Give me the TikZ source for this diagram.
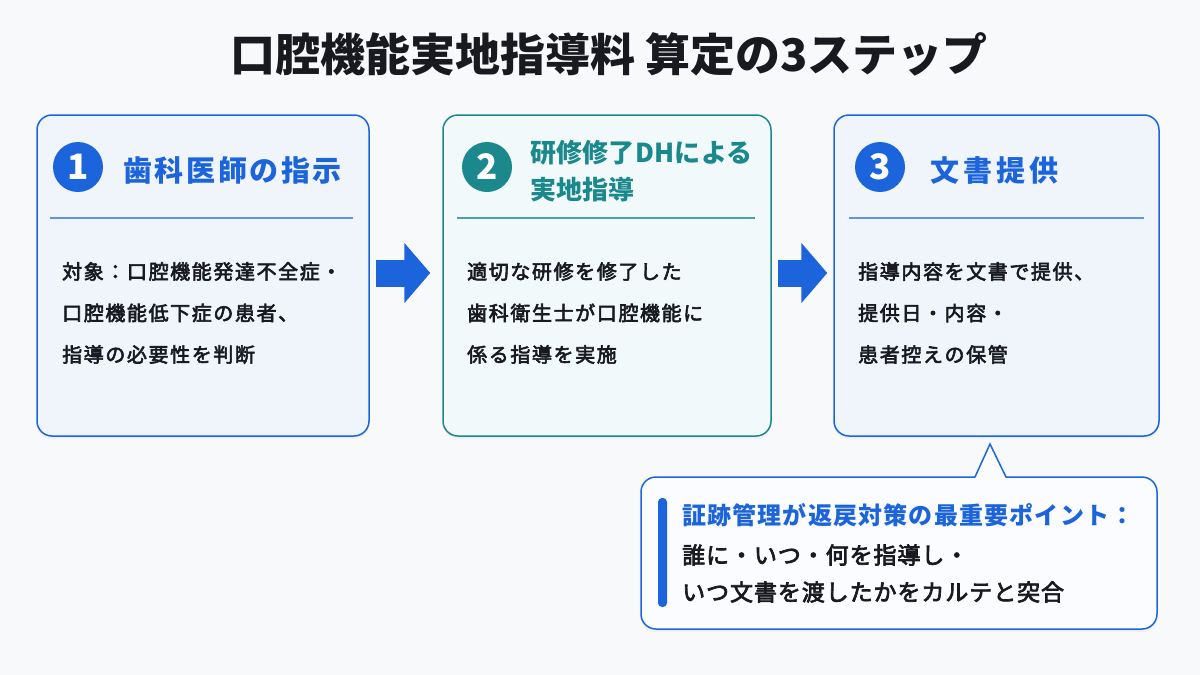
\documentclass[tikz,border=0pt]{standalone}
\usepackage{fontspec}
\setmainfont{Noto Sans CJK JP}
\usetikzlibrary{arrows.meta}
\usetikzlibrary{shadows}
\definecolor{bgcol}{RGB}{248,249,251}
\definecolor{inkcol}{RGB}{24,26,32}
\definecolor{blueM}{RGB}{28,100,220}
\definecolor{tealM}{RGB}{26,136,140}
\definecolor{bluefill}{RGB}{240,245,252}
\definecolor{tealfill}{RGB}{241,249,251}
\definecolor{notefill}{RGB}{251,252,255}
\tikzstyle{card}=[draw, line width=1.5pt, rounded corners=15pt, inner sep=0pt, minimum height=321pt, drop shadow={opacity=0.07, shadow xshift=0pt, shadow yshift=-3pt}]
\tikzstyle{bluecard}=[card, draw=blueM, fill=bluefill, minimum width=332pt]
\tikzstyle{tealcard}=[card, draw=tealM, fill=tealfill, minimum width=328pt]
\tikzstyle{numdot}=[circle, inner sep=0pt, minimum size=50pt, text=white, font=\bfseries\fontsize{35}{35}\selectfont]
\tikzstyle{headtext}=[anchor=west, inner sep=0pt, align=left, font=\bfseries\fontsize{29}{36}\selectfont\addfontfeature{LetterSpace=9}]
\tikzstyle{bodytext}=[anchor=west, inner sep=0pt, align=left, text=inkcol, font=\fontsize{20}{41.5}\selectfont\addfontfeature{LetterSpace=8,FakeBold=3}]
\tikzstyle{rulebl}=[draw=blueM!70, line width=1.2pt]
\tikzstyle{rulete}=[draw=tealM!80, line width=1.2pt]
\tikzstyle{flow}=[draw=blueM, line width=27pt, -{Triangle[width=59pt,length=26pt]}]
\tikzstyle{notebox}=[draw=blueM, line width=1.5pt, fill=notefill, rounded corners=15pt, inner sep=0pt, minimum width=516pt, minimum height=152pt, drop shadow={opacity=0.07, shadow xshift=0pt, shadow yshift=-3pt}]
\begin{document}
\begin{tikzpicture}[x=1pt, y=-1pt]
        \fill[bgcol] (0,0) rectangle (1200,675);
        \useasboundingbox (0,0) rectangle (1200,675);
        \node[inner sep=0pt, text=inkcol, font=\bfseries\fontsize{45}{50}\selectfont] (title) at (609,54) {口腔機能実地指導料 算定の3ステップ};
        % three steps
        \node[bluecard] (s1) at (203,275.5) {};
        \node[tealcard] (s2) at (607,275.5) {};
        \node[bluecard, minimum width=325pt] (s3) at (996.5,275.5) {};
        \node[numdot, fill=blueM] (n1) at (78,167) {1};
        \node[headtext, text=blueM] (h1) at (123,170) {歯科医師の指示};
        \draw[rulebl] (50,218) -- (353,218);
        \node[bodytext] (b1) at (62,313) {対象：口腔機能発達不全症・\\口腔機能低下症の患者、\\指導の必要性を判断};
        \node[numdot, fill=tealM] (n2) at (487,167) {2};
        \node[headtext, text=tealM, font=\bfseries\fontsize{26}{37}\selectfont\addfontfeature{LetterSpace=1}] (h2) at (530,171.5) {研修修了DHによる\\実地指導};
        \draw[rulete] (457,218) -- (755,218);
        \node[bodytext] (b2) at (467,313) {適切な研修を修了した\\歯科衛生士が口腔機能に\\係る指導を実施};
        \node[numdot, fill=blueM] (n3) at (880,167) {3};
        \node[headtext, text=blueM, font=\bfseries\fontsize{29}{36}\selectfont\addfontfeature{LetterSpace=14}] (h3) at (930,170) {文書提供};
        \draw[rulebl] (849,218) -- (1144,218);
        \node[bodytext] (b3) at (858,313) {指導内容を文書で提供、\\提供日・内容・\\患者控えの保管};
        \draw[flow] ([xshift=6pt, yshift=2.5pt]s1.east) -- ([xshift=-12pt, yshift=2.5pt]s2.west);
        \draw[flow] ([xshift=6pt, yshift=2.5pt]s2.east) -- ([xshift=-6pt, yshift=2.5pt]s3.west);
        % callout under step 3
        \node[notebox] (note) at (899,553) {};
        \fill[notefill] (975,478.6) -- (990,444) -- (1006,478.6) -- cycle;
        \draw[blueM, line width=1.5pt] (975,477) -- (990,444) -- (1006,477);
        \fill[blueM, rounded corners=4pt] (658,498) rectangle (667,607);
        \node[anchor=west, inner sep=0pt, text=blueM, font=\bfseries\fontsize{24}{30}\selectfont\addfontfeature{LetterSpace=5}] (k1) at (682,515) {証跡管理が返戻対策の最重要ポイント：};
        \node[anchor=west, inner sep=0pt, align=left, text=inkcol, font=\fontsize{23}{37}\selectfont\addfontfeature{LetterSpace=4,FakeBold=3}] (k2) at (682,573.5) {誰に・いつ・何を指導し・\\いつ文書を渡したかをカルテと突合};
    \end{tikzpicture}
\end{document}
